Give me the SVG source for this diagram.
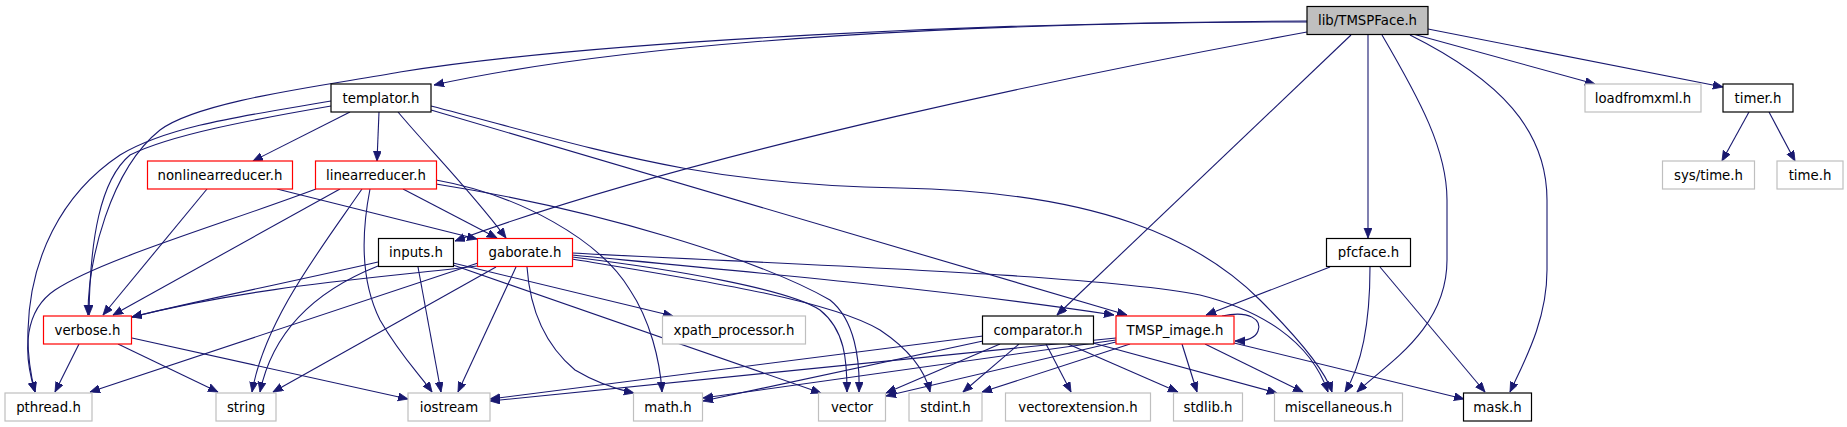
<svg xmlns="http://www.w3.org/2000/svg" width="1847" height="427" viewBox="0 0 1847 427">
<style>
.node rect{fill:#ffffff;stroke-width:1.2}
.k rect{stroke:#000000}
.r rect{stroke:#ff0000}
.g rect{stroke:#bfbfbf}
.root rect{fill:#bfbfbf;stroke:#000000}
.node text{font-family:"DejaVu Sans","Liberation Sans",sans-serif;font-size:13.3px;fill:#000000;text-anchor:middle}
#edges path{fill:none;stroke:#191970;stroke-width:1.1;marker-end:url(#arr)}
</style>
<defs>
<marker id="arr" markerUnits="userSpaceOnUse" markerWidth="11" markerHeight="9" refX="10" refY="4" orient="auto">
<path d="M0,0 L10,4 L0,8 z" fill="#191970" stroke="#191970" stroke-width="0.8"/>
</marker>
</defs>
<rect width="1847" height="427" fill="#ffffff"/>
<g id="edges">
<!-- lib/TMSPFace.h -->
<path d="M1307,22 C1000,22 650,38 434,85"/>
<path d="M1307,21 C1000,22 600,40 400,72 C330,85 200,100 160,130 C110,170 88,260 88,315"/>
<path d="M1307,32 C1100,70 700,150 455,241"/>
<path d="M1351,35 L1057,315"/>
<path d="M1368,35 L1368,238"/>
<path d="M1382,35 C1420,100 1447,150 1447,200 L1447,260 C1447,330 1385,365 1357,392"/>
<path d="M1410,35 C1500,80 1547,130 1547,200 L1547,270 C1547,320 1525,360 1510,392"/>
<path d="M1413,34 L1595,84"/>
<path d="M1428,29 L1723,87"/>
<!-- templator.h -->
<path d="M350,112 L253,161"/>
<path d="M379,112 L377,161"/>
<path d="M398,112 C430,150 470,190 506,238"/>
<path d="M331,106 C250,120 170,135 130,155 C100,180 90,240 89,315"/>
<path d="M331,101 C250,115 170,125 120,155 C60,195 30,260 28,330 C27,360 32,380 35,392"/>
<path d="M431,110 L1127,315"/>
<path d="M431,106 C600,150 700,185 900,188 C1100,192 1200,240 1260,300 C1300,340 1325,370 1332,392"/>
<!-- nonlinearreducer.h -->
<path d="M207,189 L103,315"/>
<path d="M277,189 L477,239"/>
<!-- linearreducer.h -->
<path d="M403,189 L497,238"/>
<path d="M340,189 L113,315"/>
<path d="M316,189 C220,225 100,260 55,290 C25,310 22,350 35,392"/>
<path d="M362,189 C320,250 265,320 252,392"/>
<path d="M370,189 C362,230 360,280 380,320 C400,355 420,375 432,392"/>
<path d="M436,180 C520,195 600,240 630,290 C650,320 660,360 662,392"/>
<path d="M436,184 C600,210 760,260 830,300 C855,320 860,360 859,392"/>
<!-- inputs.h -->
<path d="M378,262 C300,280 200,300 132,317"/>
<path d="M378,266 C330,285 275,320 260,392"/>
<path d="M418,267 L441,392"/>
<path d="M453,263 L673,316"/>
<path d="M453,265 L821,393"/>
<!-- gaborate.h -->
<path d="M477,266 C380,278 260,285 132,317"/>
<path d="M478,263 L90,392"/>
<path d="M496,267 L273,392"/>
<path d="M516,267 L458,392"/>
<path d="M527,267 C530,310 545,345 575,370 C600,385 620,390 634,393"/>
<path d="M572,257 C680,270 790,290 820,310 C845,330 847,360 847,392"/>
<path d="M572,259 C700,280 830,300 880,330 C910,350 925,370 930,392"/>
<path d="M572,255 C750,272 950,290 1114,315"/>
<path d="M572,253 C800,265 1100,275 1200,295 C1260,310 1310,340 1328,392"/>
<!-- verbose.h -->
<path d="M79,344 L55,392"/>
<path d="M118,344 L218,392"/>
<path d="M132,338 L408,399"/>
<!-- comparator.h -->
<path d="M983,336 L490,399"/>
<path d="M983,341 L703,401"/>
<path d="M1000,344 L886,393"/>
<path d="M1019,344 L963,392"/>
<path d="M1046,344 L1071,392"/>
<path d="M1068,344 L1178,392"/>
<path d="M1093,343 L1277,393"/>
<!-- TMSP_image.h -->
<path d="M1116,338 L490,401"/>
<path d="M1116,340 L703,398"/>
<path d="M1116,342 L886,396"/>
<path d="M1130,344 L982,392"/>
<path d="M1182,344 L1197,392"/>
<path d="M1205,344 L1303,392"/>
<path d="M1234,343 L1464,399"/>
<path d="M1222,316 C1250,310 1262,320 1258,331 C1255,339 1246,341 1235,341"/>
<!-- pfcface.h -->
<path d="M1330,267 L1206,315"/>
<path d="M1370,267 C1370,310 1365,360 1345,392"/>
<path d="M1380,267 L1485,392"/>
<!-- timer.h -->
<path d="M1749,112 L1722,161"/>
<path d="M1769,112 L1795,161"/>
</g>
<g id="node-TMSPFace" class="node root"><rect x="1307" y="6.5" width="121" height="28"/><text x="1367.5" y="25">lib/TMSPFace.h</text></g>
<g id="node-templator" class="node k"><rect x="331" y="84" width="100" height="28"/><text x="381" y="102.5">templator.h</text></g>
<g id="node-loadfromxml" class="node g"><rect x="1585" y="84" width="116" height="28"/><text x="1643" y="102.5">loadfromxml.h</text></g>
<g id="node-timer" class="node k"><rect x="1723" y="84" width="70" height="28"/><text x="1758" y="102.5">timer.h</text></g>
<g id="node-nonlinearreducer" class="node r"><rect x="147.5" y="161" width="145" height="28"/><text x="220" y="179.5">nonlinearreducer.h</text></g>
<g id="node-linearreducer" class="node r"><rect x="315.5" y="161" width="121" height="28"/><text x="376" y="179.5">linearreducer.h</text></g>
<g id="node-systime" class="node g"><rect x="1662.5" y="161" width="92" height="28"/><text x="1708.5" y="179.5">sys/time.h</text></g>
<g id="node-time" class="node g"><rect x="1777" y="161" width="66" height="28"/><text x="1810" y="179.5">time.h</text></g>
<g id="node-inputs" class="node k"><rect x="378.5" y="238.5" width="75" height="28"/><text x="416" y="257">inputs.h</text></g>
<g id="node-gaborate" class="node r"><rect x="477.5" y="238.5" width="95" height="28"/><text x="525" y="257">gaborate.h</text></g>
<g id="node-pfcface" class="node k"><rect x="1326.5" y="238.5" width="84" height="28"/><text x="1368.5" y="257">pfcface.h</text></g>
<g id="node-verbose" class="node r"><rect x="43.5" y="316" width="88" height="28"/><text x="87.5" y="334.5">verbose.h</text></g>
<g id="node-xpath" class="node g"><rect x="662.5" y="316" width="143" height="28"/><text x="734" y="334.5">xpath_processor.h</text></g>
<g id="node-comparator" class="node k"><rect x="982.5" y="316" width="111" height="28"/><text x="1038" y="334.5">comparator.h</text></g>
<g id="node-TMSP_image" class="node r"><rect x="1116" y="316" width="118" height="28"/><text x="1175" y="334.5">TMSP_image.h</text></g>
<g id="node-pthread" class="node g"><rect x="5" y="393" width="87" height="28"/><text x="48.5" y="411.5">pthread.h</text></g>
<g id="node-string" class="node g"><rect x="216" y="393" width="60" height="28"/><text x="246" y="411.5">string</text></g>
<g id="node-iostream" class="node g"><rect x="408" y="393" width="82" height="28"/><text x="449" y="411.5">iostream</text></g>
<g id="node-math" class="node g"><rect x="633.5" y="393" width="69" height="28"/><text x="668" y="411.5">math.h</text></g>
<g id="node-vector" class="node g"><rect x="818.5" y="393" width="67" height="28"/><text x="852" y="411.5">vector</text></g>
<g id="node-stdint" class="node g"><rect x="909" y="393" width="73" height="28"/><text x="945.5" y="411.5">stdint.h</text></g>
<g id="node-vectorextension" class="node g"><rect x="1005.5" y="393" width="145" height="28"/><text x="1078" y="411.5">vectorextension.h</text></g>
<g id="node-stdlib" class="node g"><rect x="1173.5" y="393" width="69" height="28"/><text x="1208" y="411.5">stdlib.h</text></g>
<g id="node-misc" class="node g"><rect x="1274.5" y="393" width="128" height="28"/><text x="1338.5" y="411.5">miscellaneous.h</text></g>
<g id="node-mask" class="node k"><rect x="1463.5" y="393" width="68" height="28"/><text x="1497.5" y="411.5">mask.h</text></g>
</svg>
